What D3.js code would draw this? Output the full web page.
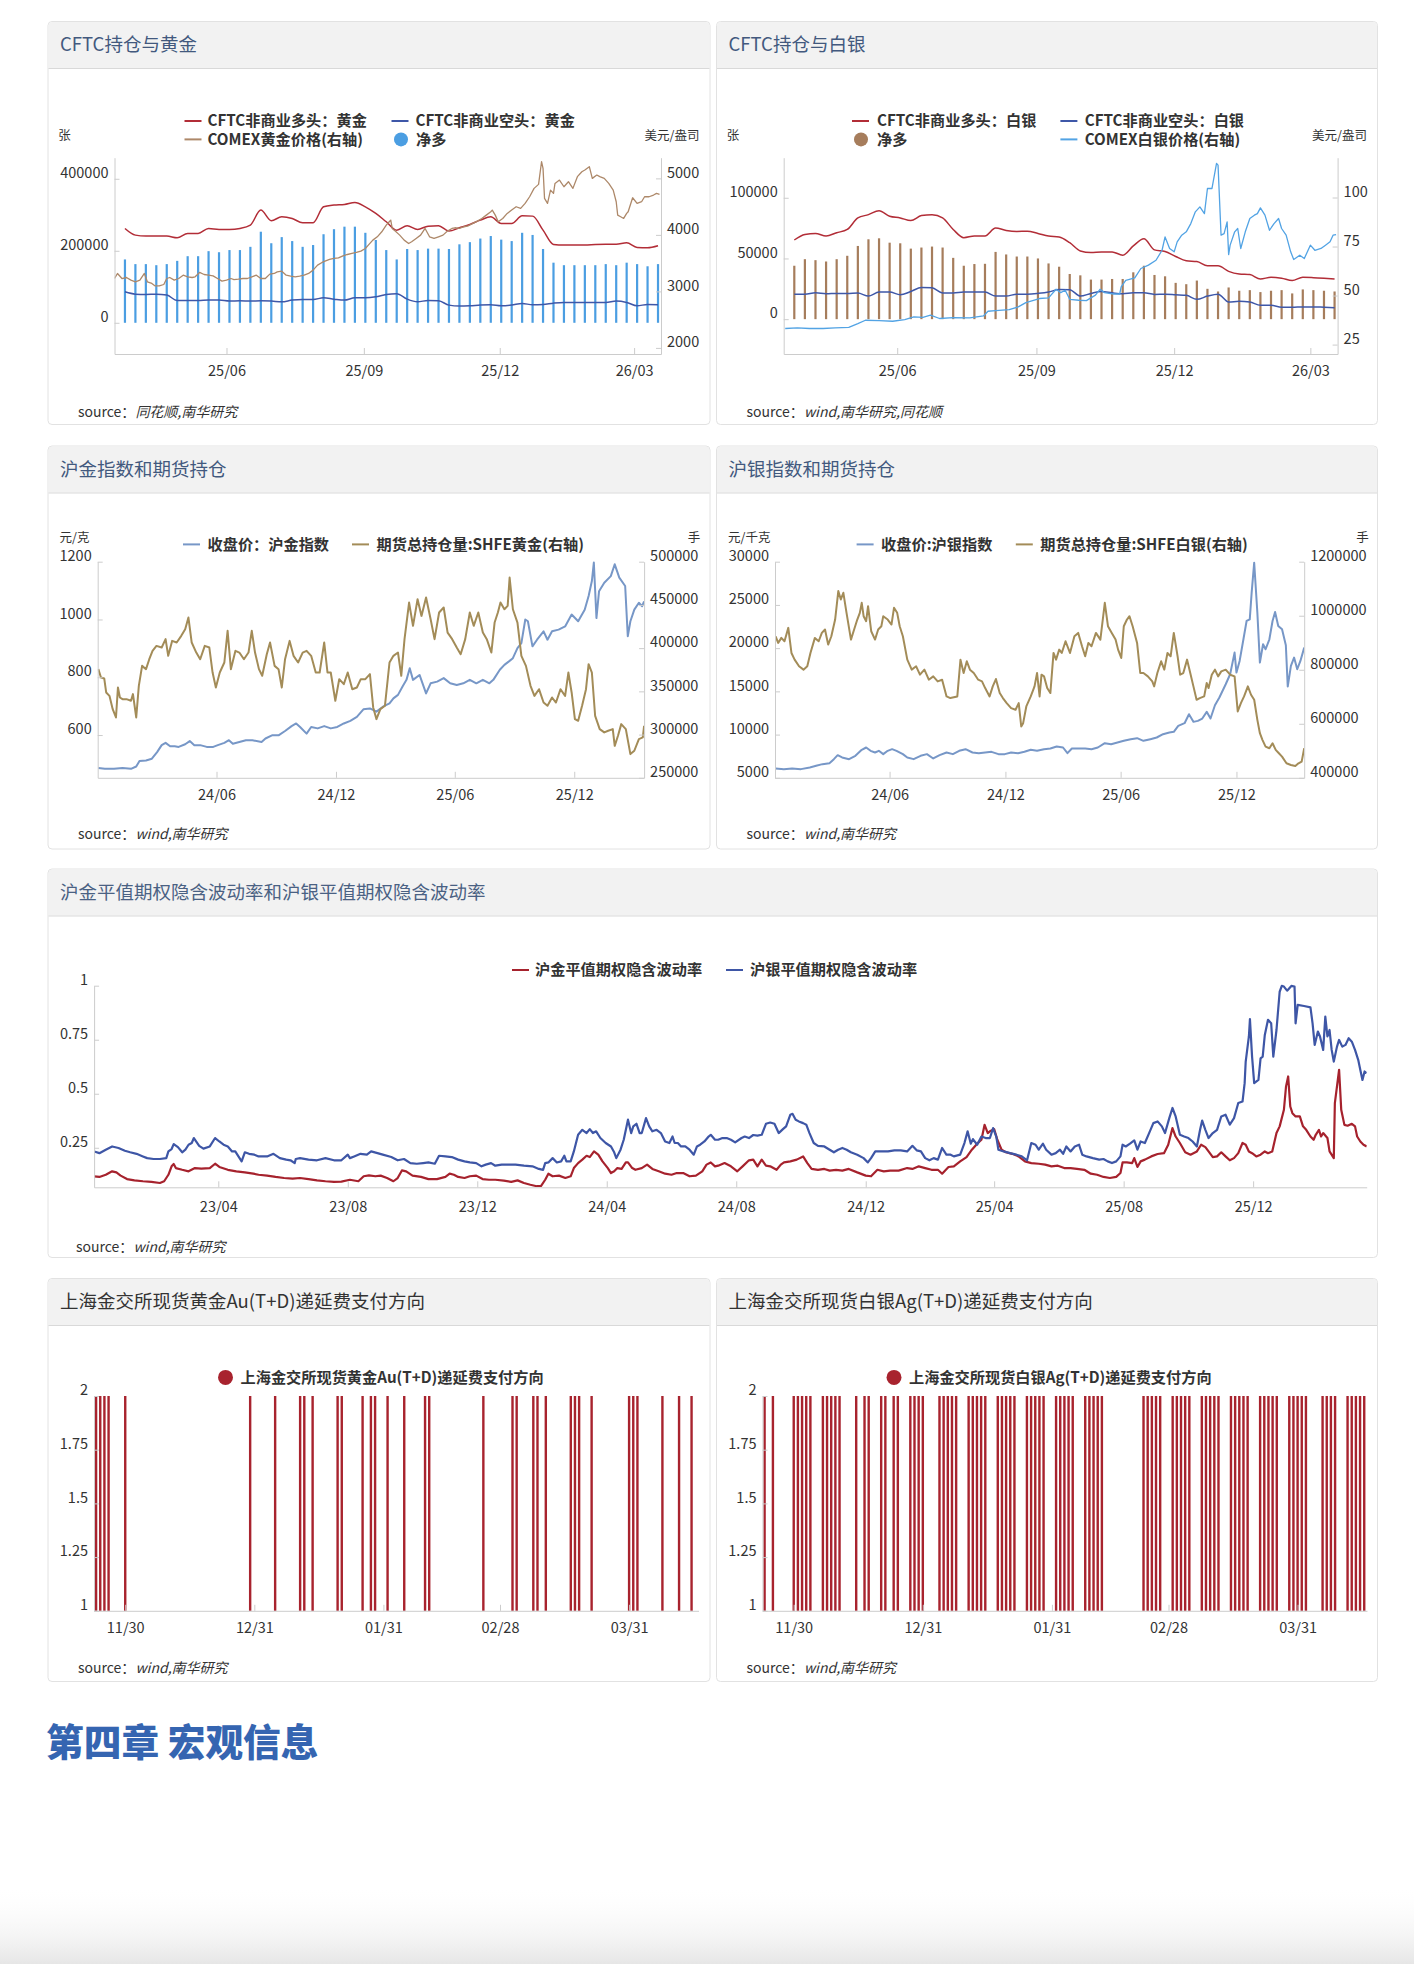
<!DOCTYPE html>
<html>
<head>
<meta charset="utf-8">
<script src="https://cdn.jsdelivr.net/npm/d3@7"></script>
<style>
  body { margin: 0; background: #fff; }
</style>
</head>
<body>
<script>
// Precious metals report page: CFTC positions, SHFE index / open interest,
// implied volatility and SGE deferred-fee direction.

// ---------- CFTC weekly positions (Tuesday reports) ----------
var cftcStart = new Date(2025, 2, 18), cftcEnd = new Date(2026, 2, 19);
var cftcWeeks = d3.timeTuesday.range(new Date(2025, 2, 25), new Date(2026, 2, 18));
var cftcTicks = [new Date(2025, 5, 1), new Date(2025, 8, 1), new Date(2025, 11, 1), new Date(2026, 2, 1)];

var goldLong = [262000, 243500, 240800, 240800, 240800, 236100, 248200, 248200, 262000, 259300,
  259300, 262000, 271300, 313000, 283400, 294500, 289800, 277800, 277800, 322200,
  326900, 328700, 334300, 322200, 303700, 280600, 257400, 269500, 259300, 268500,
  269500, 254700, 263900, 273200, 285200, 294500, 275900, 275900, 297200, 296300,
  257400, 217600, 215800, 215800, 215800, 217600, 218500, 218500, 222200, 209300,
  208400, 213900];
var goldShort = [86100, 79600, 78700, 79600, 76900, 62000, 62000, 62000, 63000, 63000,
  60200, 61100, 60200, 61100, 60200, 58300, 63000, 64800, 64800, 69500,
  65700, 63000, 69500, 69500, 72200, 78700, 80600, 65700, 58300, 62000,
  61100, 49100, 46300, 47200, 49100, 50000, 47200, 49100, 53700, 50000,
  50900, 54600, 56500, 56500, 56500, 56500, 56500, 60200, 56500, 47200,
  50900, 50000];
var goldNet = [176000, 163000, 163000, 160000, 163000, 172000, 185000, 185000, 199000, 196000,
  202000, 202000, 211000, 253000, 221000, 238000, 227000, 211000, 216000, 246000,
  260000, 267000, 267000, 250000, 230000, 202000, 176000, 205000, 202000, 206000,
  206000, 205000, 218000, 224000, 234000, 241000, 231000, 227000, 250000, 244000,
  205000, 167000, 160000, 160000, 160000, 160000, 163000, 160000, 167000, 163000,
  157000, 163000];

var silverLong = [65200, 69800, 70600, 68500, 71200, 73900, 83400, 86100, 89400, 84800,
  83400, 81200, 85300, 86100, 83400, 73900, 67100, 68500, 68500, 75000,
  73100, 72300, 72500, 70600, 68500, 67700, 63000, 56200, 54900, 55400,
  55400, 52700, 60300, 66300, 57100, 55700, 51600, 48100, 47500, 44000,
  44000, 39400, 37200, 36700, 33100, 34500, 33700, 31800, 34500, 34200,
  33700, 33100];
var silverShort = [20600, 20600, 21700, 20900, 21200, 21200, 21500, 19000, 22300, 22300,
  20100, 22800, 26100, 25800, 21500, 21500, 22300, 22300, 22300, 19000,
  19000, 20600, 20600, 21200, 22300, 24500, 24200, 19000, 21200, 22800,
  21700, 20900, 21700, 21700, 20400, 20600, 20100, 19600, 16300, 19000,
  20600, 14100, 14700, 14100, 11400, 11400, 9800, 9800, 10100, 10100,
  9800, 9500];
var silverNet = [44000, 49400, 48600, 47500, 49400, 52200, 60300, 65800, 66600, 63000,
  62500, 58100, 59000, 59800, 59000, 50500, 44000, 45400, 45600, 55400,
  53300, 51600, 51600, 50000, 45900, 43200, 37200, 36100, 32600, 32600,
  33100, 33100, 38600, 44000, 36400, 35300, 29900, 28800, 31800, 25000,
  22800, 26100, 23400, 23900, 22300, 23400, 23900, 21200, 24500, 23900,
  23400, 22800];

// COMEX prices, [days after 2025-03-18, USD/oz]
var comexGold = [[0,3228],[2,3317],[5,3228],[8,3246],[11,3199],[14,3169],[17,3199],[20,3317],[22,3169],[25,3140],
  [27,3098],[30,3098],[33,3122],[35,3228],[37,3246],[40,3199],[43,3228],[46,3287],[49,3258],[52,3246],
  [54,3258],[57,3335],[60,3299],[63,3287],[66,3275],[69,3228],[72,3181],[75,3199],[78,3228],[80,3210],
  [83,3216],[86,3228],[89,3228],[92,3258],[95,3287],[98,3228],[101,3228],[104,3305],[107,3317],[109,3346],
  [112,3358],[115,3287],[118,3270],[121,3258],[124,3270],[127,3287],[130,3317],[133,3376],[136,3464],[139,3512],
  [141,3535],[144,3565],[147,3583],[150,3594],[153,3630],[156,3653],[159,3671],[162,3689],[165,3712],[168,3760],
  [170,3819],[173,3907],[176,3966],[179,4055],[182,4173],[184,4232],[185,4262],[186,4114],[188,4067],[191,3996],
  [194,3907],[197,3848],[199,3878],[202,3937],[205,3996],[208,4114],[211,3966],[214,3937],[217,3966],[220,3996],
  [223,4067],[226,4114],[228,4126],[231,4114],[234,4144],[237,4161],[240,4203],[243,4244],[246,4291],[249,4350],
  [252,4409],[253,4439],[255,4350],[257,4232],[260,4291],[263,4380],[266,4439],[269,4498],[272,4468],[275,4557],
  [278,4675],[281,4823],[284,4894],[286,5295],[287,5177],[288,4646],[290,4557],[292,4793],[294,4734],[295,4911],
  [298,4970],[301,4852],[304,4941],[307,4823],[310,5030],[313,5118],[315,5148],[318,5207],[320,5000],[323,5059],
  [325,5030],[328,5000],[331,4911],[334,4793],[336,4587],[337,4350],[339,4321],[341,4291],[343,4380],[344,4409],
  [347,4657],[350,4557],[353,4587],[355,4675],[358,4675],[361,4705],[363,4734],[365,4717]];
var comexSilver = [[1,33.2],[9,33.5],[17,33.2],[26,33.2],[34,33.5],[43,33.8],[49,35.7],[54,37.4],[63,37.2],[72,36.9],
  [80,37.7],[86,39.1],[92,38.9],[97,40.0],[103,38.3],[112,38.8],[123,38.6],[132,39.6],[135,42.0],[140,42.3],
  [149,42.8],[155,44.2],[160,46.4],[169,48.5],[175,48.8],[180,53.2],[183,51.5],[186,52.7],[189,48.1],[195,47.6],
  [200,47.4],[206,50.2],[209,53.2],[212,51.5],[218,50.8],[222,50.8],[223,54.4],[226,57.8],[232,59.0],[236,63.8],
  [241,65.5],[246,68.0],[250,73.1],[252,79.9],[255,74.0],[258,72.3],[260,77.4],[263,80.8],[266,82.5],[269,86.7],
  [272,92.7],[275,95.2],[278,91.8],[280,104.6],[283,104.6],[286,117.4],[287,116.5],[289,80.8],[291,81.6],[293,87.6],
  [294,70.9],[295,75.7],[298,82.5],[300,84.2],[302,74.0],[305,82.5],[308,89.3],[311,91.0],[313,91.8],[315,94.7],
  [318,91.0],[321,83.3],[324,86.7],[327,89.3],[329,84.2],[332,80.8],[335,72.3],[337,68.4],[341,70.6],[344,68.9],
  [348,75.7],[351,73.1],[355,74.0],[358,75.7],[361,77.4],[363,80.8],[365,81.1]];

// ---------- SHFE index and total open interest ----------
var shfeEnd = new Date(2026, 2, 18);
var shfeTicks = [new Date(2024, 5, 1), new Date(2024, 11, 1), new Date(2025, 5, 1), new Date(2025, 11, 1)];
var auStart = new Date(2023, 11, 2);   // gold series: days after this date
var auIndex = [[1,486],[11,483],[25,483],[38,486],[51,483],[59,491],[64,510],[74,512],[83,518],[91,541],
  [98,565],[104,573],[111,561],[118,561],[124,559],[134,568],[141,579],[148,565],[157,565],[167,559],
  [177,559],[184,565],[194,573],[201,582],[207,570],[217,576],[227,582],[237,582],[251,576],[257,588],
  [267,599],[277,599],[287,614],[297,631],[304,640],[310,628],[320,605],[327,628],[337,623],[347,631],
  [357,623],[367,628],[377,640],[387,649],[397,663],[407,689],[417,692],[427,681],[437,698],[447,710],
  [453,727],[460,739],[467,768],[473,791],[478,831],[483,791],[493,808],[503,744],[510,779],[520,785],
  [530,797],[540,779],[550,773],[560,779],[570,791],[580,779],[590,791],[600,779],[606,791],[616,826],
  [623,843],[630,855],[636,866],[643,901],[649,918],[655,1000],[659,994],[666,907],[673,930],[683,959],
  [689,930],[696,959],[706,965],[716,976],[726,1017],[736,994],[746,1034],[752,1081],[757,1133],[760,1197],
  [764,1005],[768,1098],[776,1127],[786,1150],[792,1191],[799,1145],[808,1116],[812,942],[816,994],[822,1034],
  [829,1058],[834,1046],[837,1063]];
var auOI = [[1,375700],[5,366000],[10,364900],[13,348700],[18,344800],[23,329400],[28,319800],[31,354500],[34,342900],[38,341000],
  [44,341000],[51,339100],[54,346800],[59,319800],[63,356400],[68,379500],[74,375700],[79,387200],[84,396900],[90,402600],
  [98,400700],[104,410400],[108,391100],[114,408400],[121,406500],[128,414200],[134,421900],[139,435400],[144,406500],[151,394900],
  [157,387200],[164,402600],[171,400700],[176,371800],[181,354500],[187,371800],[194,383400],[199,420000],[204,375700],[211,396900],
  [217,394900],[224,387200],[231,394900],[236,420000],[241,394900],[247,375700],[252,368000],[259,393000],[264,406500],[271,379500],
  [277,375700],[282,354500],[287,387200],[294,408400],[300,391100],[307,383400],[314,394900],[320,396900],[327,391100],[334,371800],
  [340,371800],[347,406500],[352,371800],[357,371800],[364,339100],[370,364100],[377,358300],[383,371800],[390,352500],[397,354500],
  [403,364100],[410,364100],[417,369900],[422,331400],[427,317900],[433,329400],[440,333300],[447,383400],[453,391100],[460,394900],
  [465,368000],[470,410400],[477,452700],[483,425800],[490,456600],[496,437300],[503,458500],[510,433500],[516,410400],[523,441200],
  [530,447000],[536,418000],[543,410400],[550,400700],[556,393000],[563,410400],[570,441200],[576,425800],[583,441200],[590,418000],
  [596,410400],[603,394900],[608,429600],[613,441200],[617,452700],[623,445000],[628,448900],[631,481600],[636,445000],[643,429600],
  [649,391100],[656,379500],[663,356400],[669,344800],[676,352500],[683,337100],[689,333300],[696,342900],[702,337100],[709,352500],
  [716,344800],[721,371800],[726,348700],[731,317900],[736,316000],[742,333300],[748,352500],[752,381500],[757,371800],[762,321700],
  [769,306300],[776,302500],[782,304400],[789,306300],[792,287000],[797,298600],[802,312100],[809,306300],[816,277400],[822,281300],
  [829,294800],[835,296700],[837,310200]];

var agStart = new Date(2023, 11, 3);   // silver series: days after this date
var agIndex = [[1,6080],[14,6002],[27,6080],[41,6002],[55,6195],[65,6387],[75,6580],[86,6695],[93,7157],[99,7620],
  [106,7350],[117,7157],[127,7543],[137,8236],[144,8506],[151,8121],[158,7928],[164,8121],[171,7736],[178,8121],
  [185,8313],[192,8121],[202,7736],[209,7350],[219,7157],[230,7543],[240,7736],[250,7235],[260,7620],[271,7928],
  [281,7736],[291,8121],[301,8313],[312,7928],[322,7851],[332,7928],[342,8005],[353,7736],[363,7736],[373,7928],
  [384,7851],[394,8005],[404,8236],[414,8121],[425,8313],[435,8390],[445,8621],[455,8506],[462,7851],[469,8390],
  [479,8390],[490,8390],[500,8313],[510,8506],[521,9006],[531,8891],[541,9084],[551,9276],[562,9469],[572,9584],
  [582,9276],[593,9469],[603,9661],[613,10046],[623,10239],[630,10316],[637,11010],[647,11318],[654,12358],[661,11472],
  [668,11588],[675,11857],[682,12628],[688,11857],[695,13398],[702,14284],[712,15824],[719,16981],[726,19484],[729,17173],
  [734,18521],[740,21025],[745,23144],[750,23336],[753,26418],[757,29885],[762,24107],[766,18329],[771,20448],[775,19870],
  [781,21025],[786,23144],[790,24184],[795,22566],[801,22181],[807,20332],[810,15555],[815,17943],[820,18906],[825,17558],
  [830,18521],[836,20062]];
var agOI = [[1,924000],[5,899300],[10,917900],[15,905500],[21,955000],[26,862200],[31,837400],[38,812700],[45,800300],[51,812700],
  [56,862200],[63,917900],[69,905500],[74,936400],[79,948800],[84,893100],[89,924000],[95,985900],[100,1091100],[104,1060200],
  [108,1084900],[113,1010700],[120,911700],[125,948800],[130,985900],[134,1010700],[137,1047800],[140,998300],[144,979700],[147,1035400],
  [152,942600],[158,911700],[163,948800],[168,961200],[171,998300],[178,985900],[184,967400],[188,1029200],[193,1010700],[197,961200],
  [202,924000],[209,837400],[216,800300],[223,812700],[229,781700],[236,800300],[243,763200],[250,775500],[257,757000],[264,763200],
  [271,701300],[277,695100],[288,701300],[293,837400],[298,787900],[303,831200],[308,800300],[314,787900],[321,763200],[327,757000],
  [332,732200],[339,701300],[344,738400],[349,765600],[355,713700],[360,695100],[366,676500],[373,657900],[380,651800],[385,676500],
  [389,589900],[392,602300],[397,664100],[404,701300],[410,738400],[414,787900],[418,701300],[421,781700],[425,775500],[430,732200],
  [435,713700],[440,862200],[444,837400],[449,874500],[453,862200],[459,905500],[466,862200],[473,924000],[479,936400],[485,886900],
  [490,849800],[495,899300],[500,886900],[507,936400],[514,911700],[521,1047800],[526,961200],[532,936400],[538,911700],[542,874500],
  [547,843600],[551,961200],[556,985900],[560,998300],[565,961200],[572,899300],[577,787900],[582,787900],[589,775500],[596,757000],
  [599,738400],[604,787900],[610,831200],[615,800300],[620,862200],[625,849800],[630,936400],[636,849800],[640,781700],[645,787900],
  [651,837400],[656,787900],[661,738400],[666,688900],[671,695100],[678,701300],[682,750800],[685,732200],[690,781700],[695,800300],
  [700,775500],[705,794100],[712,800300],[719,781700],[726,775500],[731,645600],[736,676500],[741,701300],[747,738400],[752,707500],
  [757,688900],[762,614600],[766,565100],[770,540400],[775,515600],[781,509400],[786,528000],[791,503300],[796,490900],[801,478500],
  [808,453700],[815,447600],[822,443900],[827,453700],[832,459900],[836,509400]];

// ---------- ATM implied volatility, [days after 2022-12-05, vol] ----------
var ivStart = new Date(2022, 11, 5), ivEnd = new Date(2026, 2, 18);
var ivTicks = [new Date(2023, 3, 1), new Date(2023, 7, 1), new Date(2023, 11, 1), new Date(2024, 3, 1), new Date(2024, 7, 1),
  new Date(2024, 11, 1), new Date(2025, 3, 1), new Date(2025, 7, 1), new Date(2025, 11, 1)];
var ivGold = [[0,.118],[5,.115],[11,.125],[17,.141],[21,.136],[25,.121],[31,.105],[38,.099],[46,.095],[54,.092],
  [62,.087],[66,.095],[70,.125],[73,.164],[75,.175],[77,.156],[83,.148],[89,.141],[95,.156],[101,.153],
  [109,.156],[114,.176],[118,.161],[126,.148],[134,.141],[142,.136],[150,.130],[155,.125],[163,.121],[171,.115],
  [179,.110],[187,.107],[194,.110],[202,.105],[210,.099],[218,.095],[226,.092],[233,.093],[241,.102],[249,.095],
  [254,.118],[259,.122],[265,.118],[270,.121],[276,.110],[282,.095],[286,.110],[290,.145],[294,.141],[300,.121],
  [308,.115],[315,.105],[323,.105],[331,.115],[335,.130],[339,.125],[343,.115],[349,.110],[354,.118],[360,.121],
  [366,.105],[372,.102],[378,.102],[386,.098],[393,.092],[399,.099],[405,.087],[411,.079],[417,.072],[421,.072],
  [425,.102],[428,.130],[432,.118],[438,.121],[444,.110],[449,.118],[452,.156],[456,.179],[460,.195],[464,.213],
  [467,.207],[471,.233],[475,.218],[479,.187],[484,.156],[487,.133],[490,.141],[493,.156],[497,.152],[501,.182],
  [503,.182],[507,.156],[510,.148],[516,.156],[521,.172],[526,.152],[532,.141],[538,.130],[544,.125],[549,.133],
  [555,.133],[561,.118],[567,.121],[573,.141],[577,.172],[581,.182],[585,.164],[588,.167],[594,.179],[600,.164],
  [606,.141],[611,.164],[617,.192],[621,.195],[625,.164],[629,.195],[633,.167],[637,.164],[643,.148],[647,.172],
  [650,.182],[656,.187],[662,.195],[668,.210],[672,.179],[676,.152],[682,.148],[688,.152],[693,.144],[699,.148],
  [705,.144],[711,.152],[719,.136],[727,.121],[732,.118],[738,.148],[744,.141],[750,.144],[758,.144],[766,.156],
  [771,.152],[777,.164],[783,.156],[789,.148],[795,.148],[799,.130],[805,.161],[810,.164],[816,.187],[822,.207],
  [827,.241],[832,.269],[836,.287],[839,.356],[842,.318],[844,.326],[848,.336],[851,.287],[855,.241],[859,.229],
  [865,.222],[871,.210],[877,.187],[883,.179],[890,.176],[896,.172],[902,.164],[908,.167],[914,.156],[920,.156],
  [926,.152],[933,.148],[939,.130],[945,.125],[951,.115],[957,.110],[963,.115],[967,.133],[969,.182],[973,.182],
  [978,.179],[980,.202],[983,.161],[986,.187],[990,.195],[996,.210],[1002,.221],[1008,.225],[1012,.264],[1016,.341],
  [1019,.302],[1023,.272],[1028,.229],[1033,.218],[1039,.233],[1043,.264],[1047,.253],[1050,.233],[1054,.207],[1058,.210],
  [1062,.229],[1066,.210],[1070,.192],[1074,.202],[1078,.225],[1082,.272],[1085,.264],[1088,.233],[1091,.225],[1095,.210],
  [1099,.218],[1103,.233],[1106,.225],[1110,.233],[1114,.318],[1117,.349],[1121,.426],[1123,.534],[1125,.580],[1127,.441],
  [1129,.410],[1132,.395],[1136,.395],[1139,.349],[1142,.333],[1146,.302],[1149,.287],[1151,.310],[1154,.333],[1156,.302],
  [1158,.318],[1162,.295],[1164,.233],[1168,.202],[1169,.457],[1171,.534],[1173,.611],[1175,.426],[1178,.356],[1181,.352],
  [1185,.361],[1188,.349],[1190,.302],[1193,.279],[1196,.264],[1199,.256]];
var ivSilver = [[0,.233],[5,.225],[11,.241],[17,.256],[23,.249],[29,.236],[34,.229],[40,.222],[46,.210],[50,.202],
  [56,.198],[62,.198],[68,.202],[70,.233],[73,.244],[75,.267],[79,.253],[83,.229],[86,.241],[89,.264],
  [92,.272],[94,.295],[99,.259],[103,.246],[109,.256],[114,.295],[118,.279],[122,.264],[126,.256],[130,.233],
  [133,.233],[136,.210],[139,.187],[142,.229],[146,.222],[151,.218],[155,.210],[163,.210],[169,.222],[175,.202],
  [181,.195],[185,.192],[189,.179],[190,.198],[194,.202],[202,.195],[210,.192],[218,.202],[226,.192],[233,.192],
  [239,.218],[241,.202],[245,.210],[251,.222],[257,.218],[261,.233],[267,.225],[272,.218],[280,.207],[286,.192],
  [292,.198],[298,.179],[304,.176],[310,.179],[315,.182],[321,.176],[325,.213],[331,.210],[337,.207],[343,.195],
  [349,.187],[354,.182],[360,.179],[365,.164],[369,.172],[374,.179],[378,.167],[384,.172],[389,.172],[397,.172],
  [405,.167],[413,.164],[419,.152],[423,.148],[425,.179],[428,.182],[432,.202],[436,.182],[440,.187],[443,.213],
  [445,.187],[449,.187],[452,.233],[456,.310],[460,.333],[464,.318],[467,.336],[470,.318],[473,.326],[477,.295],
  [482,.272],[487,.256],[490,.229],[492,.202],[496,.241],[499,.287],[503,.380],[506,.318],[508,.349],[511,.361],
  [514,.318],[516,.318],[520,.387],[523,.349],[526,.326],[530,.333],[534,.318],[538,.279],[542,.272],[545,.302],
  [547,.272],[550,.272],[553,.256],[557,.256],[561,.241],[565,.218],[568,.256],[571,.264],[575,.279],[579,.302],
  [581,.310],[585,.287],[588,.287],[592,.295],[596,.295],[600,.287],[604,.275],[610,.295],[613,.302],[617,.295],
  [621,.309],[625,.306],[629,.310],[633,.361],[637,.367],[641,.361],[645,.318],[649,.336],[652,.349],[656,.403],
  [658,.407],[661,.380],[664,.372],[668,.364],[671,.357],[674,.318],[678,.272],[682,.259],[688,.256],[693,.241],
  [697,.229],[701,.241],[705,.249],[709,.241],[713,.229],[719,.218],[725,.202],[729,.182],[732,.202],[736,.233],
  [742,.233],[748,.233],[754,.238],[760,.238],[766,.233],[771,.259],[775,.238],[779,.233],[783,.202],[787,.192],
  [791,.202],[795,.195],[799,.249],[803,.218],[807,.218],[810,.210],[816,.218],[820,.272],[823,.326],[826,.269],
  [828,.290],[832,.264],[836,.302],[840,.295],[844,.295],[847,.341],[850,.302],[852,.241],[857,.233],[863,.225],
  [869,.218],[874,.210],[879,.192],[883,.272],[887,.264],[890,.241],[894,.269],[897,.241],[902,.218],[906,.225],
  [910,.241],[913,.222],[916,.256],[920,.233],[924,.256],[928,.264],[931,.218],[935,.210],[941,.202],[947,.195],
  [951,.198],[955,.187],[959,.179],[963,.187],[967,.210],[969,.264],[972,.256],[976,.269],[980,.284],[983,.241],
  [986,.279],[990,.272],[994,.318],[998,.364],[1002,.372],[1006,.349],[1009,.318],[1013,.387],[1016,.434],[1019,.395],
  [1023,.310],[1027,.302],[1031,.295],[1035,.279],[1039,.256],[1042,.333],[1044,.376],[1047,.333],[1050,.295],[1054,.318],
  [1058,.333],[1062,.395],[1066,.403],[1070,.357],[1074,.387],[1078,.457],[1082,.464],[1084,.549],[1085,.649],[1088,.765],
  [1089,.845],[1091,.672],[1093,.549],[1097,.564],[1099,.664],[1101,.672],[1103,.772],[1106,.842],[1109,.826],[1111,.672],
  [1114,.795],[1117,.972],[1119,.999],[1121,.996],[1124,.977],[1128,.999],[1131,.996],[1132,.826],[1134,.911],[1140,.906],
  [1146,.900],[1148,.826],[1150,.726],[1153,.788],[1155,.765],[1158,.703],[1160,.857],[1162,.765],[1164,.795],[1166,.703],
  [1168,.649],[1171,.718],[1173,.749],[1176,.718],[1179,.726],[1182,.757],[1185,.741],[1188,.703],[1191,.657],[1193,.610],
  [1195,.564],[1197,.603],[1199,.595]];

// ---------- SGE T+D deferred fee: days (after 2020-11-30) when the direction value is 2 ----------
var tdBase = new Date(2020, 10, 30);
var tdStart = new Date(2020, 10, 22, 12), tdEnd = new Date(2021, 3, 16, 16);
var tdTicks = [new Date(2020, 10, 30), new Date(2020, 11, 31), new Date(2021, 0, 31), new Date(2021, 1, 28), new Date(2021, 2, 31)];
var auDefer = [-7, -6, -5, -4, 0, 30, 36, 42, 43, 45, 51, 52, 57, 59, 60, 63, 67, 72, 73, 86,
  93, 94, 98, 99, 101, 107, 108, 109, 112, 121, 122, 123, 129, 133, 136];
var agDefer = [-7, -5, 0, 1, 2, 3, 4, 7, 8, 9, 10, 11, 15, 17, 18, 21, 22, 24, 25, 28, 29, 30, 31,
  35, 36, 37, 38, 39, 42, 43, 44, 45, 46, 49, 50, 51, 52, 53, 56, 57, 58, 59, 60, 63, 64, 65, 66, 67,
  70, 71, 72, 73, 74, 84, 85, 86, 87, 88, 91, 92, 93, 94, 95, 98, 99, 100, 101, 102,
  105, 106, 107, 108, 109, 112, 113, 114, 115, 116, 119, 120, 121, 122, 123, 127, 128, 129, 130,
  133, 134, 135, 136, 137];

// ---------- drawing ----------
var FONT = '"Noto Sans CJK SC", "Noto Sans", sans-serif';
var AXIS = '#cccccc';
var TXT = '#333333';
var LEGEND_SIZE = 15.2;

var svg = d3.select('body').append('svg')
  .attr('width', 1414).attr('height', 1964)
  .style('font-family', FONT);

var clipId = 0;
function at(base, n) { return d3.timeDay.offset(base, n); }

function panel(px, py, w, h, title, color) {
  var g = svg.append('g').attr('transform', 'translate(' + px + ',' + py + ')');
  g.append('rect').attr('x', 0.5).attr('y', 0.5).attr('width', w - 1).attr('height', h - 1)
    .attr('rx', 4).attr('fill', '#fff').attr('stroke', '#e2e2e2');
  g.append('path')
    .attr('d', 'M1,47 V5 Q1,1 5,1 H' + (w - 5) + ' Q' + (w - 1) + ',1 ' + (w - 1) + ',5 V47 Z')
    .attr('fill', '#f2f2f2');
  g.append('line').attr('x1', 1).attr('x2', w - 1).attr('y1', 47.5).attr('y2', 47.5).attr('stroke', '#d9d9d9');
  g.append('text').attr('x', 12.5).attr('y', 24).attr('dy', '0.35em')
    .attr('font-size', 18.5).attr('fill', color).text(title);
  return g;
}

function source(g, x, y, who) {
  var t = g.append('text').attr('x', x).attr('y', y).attr('dy', '0.35em').attr('font-size', 14).attr('fill', TXT);
  t.append('tspan').text('source：');
  t.append('tspan').attr('font-style', 'italic').text(who);
}

function unit(g, x, y, label, anchor) {
  g.append('text').attr('x', x).attr('y', y).attr('dy', '0.35em').attr('font-size', 12.5)
    .attr('text-anchor', anchor || 'start').attr('fill', TXT).text(label);
}

function legendLine(g, x, y, color, label, gap) {
  g.append('line').attr('x1', x).attr('x2', x + 17).attr('y1', y).attr('y2', y)
    .attr('stroke', color).attr('stroke-width', 2);
  legendText(g, x + (gap || 24), y, label);
}
function legendDot(g, cx, y, color, label, gap, r) {
  g.append('circle').attr('cx', cx).attr('cy', y).attr('r', r || 7).attr('fill', color);
  legendText(g, cx + (gap || 15), y, label);
}
function legendText(g, x, y, label) {
  g.append('text').attr('x', x).attr('y', y).attr('dy', '0.35em').attr('font-size', LEGEND_SIZE)
    .attr('font-weight', 'bold').attr('fill', TXT).text(label);
}

function dress(a) {
  a.attr('font-family', null).attr('font-size', null);
  a.select('.domain').attr('stroke', AXIS);
  a.selectAll('.tick line').attr('stroke', AXIS);
  a.selectAll('.tick text').attr('fill', TXT).attr('font-size', 14.5);
}

function yAxis(g, scale, ticks, x, orient) {
  var axis = (orient === 'right' ? d3.axisRight(scale) : d3.axisLeft(scale))
    .tickValues(ticks).tickSize(-5).tickSizeOuter(0).tickPadding(6).tickFormat(function (d) { return d; });
  var a = g.append('g').attr('transform', 'translate(' + x + ',0)').call(axis);
  dress(a);
  // the source draws its y labels a few pixels above their ticks
  a.selectAll('.tick text').attr('y', -6);
}

function xAxis(g, scale, ticks, y, fmt, pad) {
  var axis = d3.axisBottom(scale).tickValues(ticks).tickFormat(d3.timeFormat(fmt))
    .tickSize(-6).tickSizeOuter(0).tickPadding(pad || 12);
  var a = g.append('g').attr('transform', 'translate(0,' + y + ')').call(axis);
  dress(a);
}

function clip(g, x0, y0, x1, y1) {
  var id = 'clip' + (clipId++);
  g.append('clipPath').attr('id', id).append('rect')
    .attr('x', x0).attr('y', y0 - 2).attr('width', x1 - x0).attr('height', y1 - y0 + 2);
  return 'url(#' + id + ')';
}

function drawLine(g, data, x, y, color, width, curve, clipUrl) {
  g.append('path').datum(data)
    .attr('fill', 'none').attr('stroke', color).attr('stroke-width', width)
    .attr('stroke-linejoin', 'round').attr('clip-path', clipUrl)
    .attr('d', d3.line().x(function (d) { return x(d[0]); }).y(function (d) { return y(d[1]); }).curve(curve || d3.curveLinear));
}

// ----- CFTC panels -----
function cftcPanel(px, title, o) {
  var g = panel(px, 21, o.w, 404, title, '#42597e');
  var top = 136.7, bottom = 333;
  var x = d3.scaleTime().domain([cftcStart, cftcEnd]).range([o.left, o.right]);
  var yl = d3.scaleLinear().domain(o.leftDomain).range([bottom, top]);
  var yr = d3.scaleLinear().domain(o.rightDomain).range([bottom, top]);

  var cp = clip(g, o.left, top, o.right, bottom);
  g.append('g').attr('clip-path', cp).selectAll('rect').data(o.net).enter().append('rect')
    .attr('x', function (d, i) { return x(cftcWeeks[i]) - 1.1; })
    .attr('width', 2.2)
    .attr('y', function (d) { return yl(d); })
    .attr('height', function (d) { return yl(0) - yl(d); })
    .attr('fill', o.netColor);

  var weekly = function (vals) { return vals.map(function (v, i) { return [cftcWeeks[i], v]; }); };
  var price = o.price.map(function (d) { return [at(cftcStart, d[0]), d[1]]; });
  drawLine(g, weekly(o.long), x, yl, '#b22d37', 1.5, d3.curveMonotoneX, cp);
  drawLine(g, weekly(o.short), x, yl, '#3e57a8', 1.5, d3.curveMonotoneX, cp);
  drawLine(g, price, x, yr, o.priceColor, 1.3, d3.curveLinear, cp);

  yAxis(g, yl, o.leftTicks, o.left, 'left');
  yAxis(g, yr, o.rightTicks, o.right, 'right');
  xAxis(g, x, cftcTicks, bottom, '%y/%m');

  unit(g, 10.7, 115, '张');
  unit(g, o.w - 11, 115, '美元/盎司', 'end');
  o.legend(g);
  source(g, 30.5, 391, o.source);
}

cftcPanel(47.5, 'CFTC持仓与黄金', {
  w: 663, left: 67, right: 613.5,
  leftDomain: [-86700, 458600], rightDomain: [1892, 5366],
  leftTicks: [0, 200000, 400000], rightTicks: [2000, 3000, 4000, 5000],
  long: goldLong, short: goldShort, net: goldNet, price: comexGold,
  netColor: '#4b9ee2', priceColor: '#ad8869',
  source: '同花顺,南华研究',
  legend: function (g) {
    legendLine(g, 137, 100, '#b22d37', 'CFTC非商业多头：黄金', 23);
    legendLine(g, 344, 100, '#3e57a8', 'CFTC非商业空头：黄金', 24);
    legendLine(g, 137, 118.4, '#ad8869', 'COMEX黄金价格(右轴)', 23);
    legendDot(g, 353.5, 118.4, '#4b9ee2', '净多', 15);
  }
});

cftcPanel(716, 'CFTC持仓与白银', {
  w: 662, left: 67.7, right: 621.6,
  leftDomain: [-28700, 133000], rightDomain: [20.2, 120.3],
  leftTicks: [0, 50000, 100000], rightTicks: [25, 50, 75, 100],
  long: silverLong, short: silverShort, net: silverNet, price: comexSilver,
  netColor: '#a67d5c', priceColor: '#52a3e4',
  source: 'wind,南华研究,同花顺',
  legend: function (g) {
    legendLine(g, 136, 100, '#b22d37', 'CFTC非商业多头：白银', 25);
    legendLine(g, 344.4, 100, '#3e57a8', 'CFTC非商业空头：白银', 24.3);
    legendDot(g, 145, 118.4, '#a67d5c', '净多', 16);
    legendLine(g, 344.4, 118.4, '#52a3e4', 'COMEX白银价格(右轴)', 24.3);
  }
});

// ----- SHFE index / open interest panels -----
function shfePanel(px, title, o) {
  var g = panel(px, 445.5, o.w, 404, title, '#42597e');
  var top = 116.2, bottom = 332.3;
  var x = d3.scaleTime().domain([o.start, shfeEnd]).range([o.left, o.right]);
  var yl = d3.scaleLinear().domain(o.leftDomain).range([bottom, top]);
  var yr = d3.scaleLinear().domain(o.rightDomain).range([bottom, top]);
  var cp = clip(g, o.left, top, o.right, bottom);
  var dated = function (s) { return s.map(function (d) { return [at(o.start, d[0]), d[1]]; }); };
  drawLine(g, dated(o.index), x, yl, '#7797c7', 2, d3.curveLinear, cp);
  drawLine(g, dated(o.oi), x, yr, '#a38c58', 2, d3.curveLinear, cp);
  yAxis(g, yl, o.leftTicks, o.left, 'left');
  yAxis(g, yr, o.rightTicks, o.right, 'right');
  xAxis(g, x, shfeTicks, bottom, '%y/%m');
  unit(g, 12, 92, o.leftUnit);
  unit(g, 646.5, 92, '手', 'middle');
  legendLine(g, o.leg[0], 98.9, '#7797c7', o.names[0], 24.5);
  legendLine(g, o.leg[1], 98.9, '#a38c58', o.names[1], 24.5);
  source(g, 30.5, 389, 'wind,南华研究');
}

shfePanel(47.5, '沪金指数和期货持仓', {
  w: 663, left: 50.2, right: 596.6, start: auStart,
  leftDomain: [452, 1200], rightDomain: [250000, 500000],
  leftTicks: [600, 800, 1000, 1200], rightTicks: [250000, 300000, 350000, 400000, 450000, 500000],
  index: auIndex, oi: auOI, leftUnit: '元/克',
  leg: [135.5, 304.5], names: ['收盘价：沪金指数', '期货总持仓量:SHFE黄金(右轴)']
});

shfePanel(716, '沪银指数和期货持仓', {
  w: 662, left: 59, right: 588.2, start: agStart,
  leftDomain: [5000, 30000], rightDomain: [400000, 1200000],
  leftTicks: [5000, 10000, 15000, 20000, 25000, 30000], rightTicks: [400000, 600000, 800000, 1000000, 1200000],
  index: agIndex, oi: agOI, leftUnit: '元/千克',
  leg: [140.6, 299.8], names: ['收盘价:沪银指数', '期货总持仓量:SHFE白银(右轴)']
});

// ----- implied volatility panel -----
(function () {
  var g = panel(47.5, 868.5, 1330.5, 389.5, '沪金平值期权隐含波动率和沪银平值期权隐含波动率', '#4a6183');
  var left = 46.6, right = 1319.2, top = 117.2, bottom = 318.8;
  var x = d3.scaleTime().domain([ivStart, ivEnd]).range([left, right]);
  var y = d3.scaleLinear().domain([0.067, 1]).range([bottom, top]);
  var cp = clip(g, left, top, right, bottom);
  var dated = function (s) { return s.map(function (d) { return [at(ivStart, d[0]), d[1]]; }); };
  drawLine(g, dated(ivGold), x, y, '#a6222d', 2.2, d3.curveLinear, cp);
  drawLine(g, dated(ivSilver), x, y, '#3e56a6', 2.2, d3.curveLinear, cp);
  yAxis(g, y, [0.25, 0.5, 0.75, 1], left, 'left');
  xAxis(g, x, ivTicks, bottom, '%y/%m', 14);
  legendLine(g, 464.5, 101.5, '#a6222d', '沪金平值期权隐含波动率', 23);
  legendLine(g, 678.5, 101.5, '#3e56a6', '沪银平值期权隐含波动率', 24);
  source(g, 28.5, 378.5, 'wind,南华研究');
})();

// ----- SGE deferred fee direction panels -----
function deferPanel(px, w, title, days, legendLabel) {
  var g = panel(px, 1278, w, 404, title, '#333333');
  var left = 46.5, right = 651, top = 118, bottom = 332.8;
  var x = d3.scaleTime().domain([tdStart, tdEnd]).range([left, right]);
  var y = d3.scaleLinear().domain([1, 2]).range([bottom, top]);
  g.append('g').selectAll('rect').data(days).enter().append('rect')
    .attr('x', function (d) { return x(at(tdBase, d)) - 1.2; })
    .attr('width', 2.4)
    .attr('y', y(2))
    .attr('height', y(1) - y(2))
    .attr('fill', '#a8232e');
  yAxis(g, y, [1, 1.25, 1.5, 1.75, 2], left, 'left');
  xAxis(g, x, tdTicks, bottom, '%m/%d');
  legendDot(g, 178, 99.4, '#a8232e', legendLabel, 15, 7.5);
  source(g, 30.5, 390.5, 'wind,南华研究');
}

deferPanel(47.5, 663, '上海金交所现货黄金Au(T+D)递延费支付方向', auDefer, '上海金交所现货黄金Au(T+D)递延费支付方向');
deferPanel(716, 662, '上海金交所现货白银Ag(T+D)递延费支付方向', agDefer, '上海金交所现货白银Ag(T+D)递延费支付方向');

// ----- chapter heading and page shading -----
svg.append('text').attr('x', 46).attr('y', 1756).attr('font-size', 37.7).attr('font-weight', 900)
  .attr('fill', '#3565b1').text('第四章 宏观信息');

var grad = svg.append('defs').append('linearGradient').attr('id', 'fade').attr('x1', 0).attr('y1', 0).attr('x2', 0).attr('y2', 1);
grad.append('stop').attr('offset', 0).attr('stop-color', '#ffffff').attr('stop-opacity', 0);
grad.append('stop').attr('offset', 1).attr('stop-color', '#e6e6e6').attr('stop-opacity', 1);
svg.append('rect').attr('x', 0).attr('y', 1885).attr('width', 1414).attr('height', 79).attr('fill', 'url(#fade)');
</script>
</body>
</html>
